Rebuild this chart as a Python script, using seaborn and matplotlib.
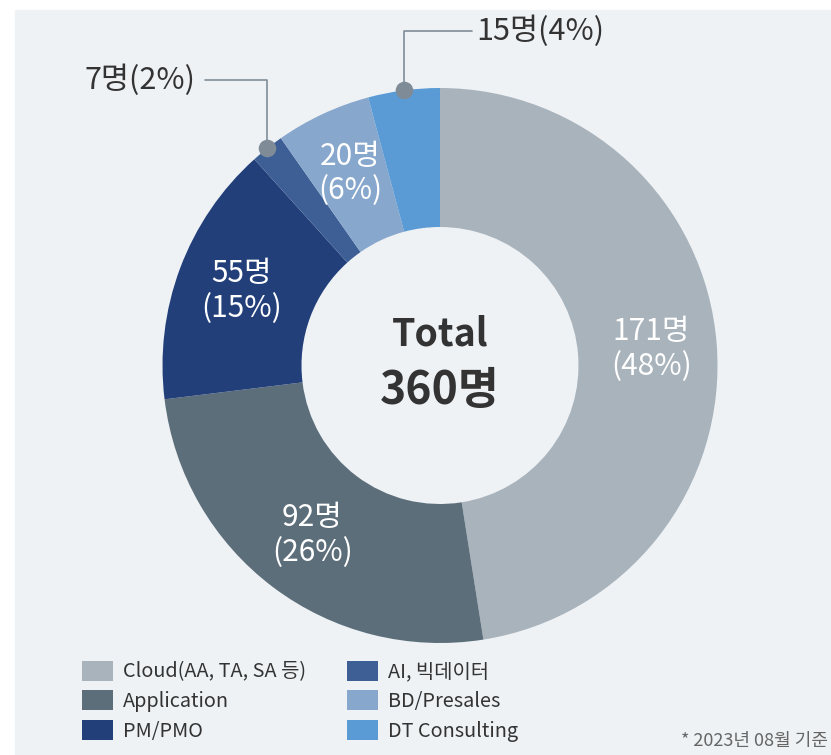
import numpy as np
import matplotlib
matplotlib.use("Agg")
import matplotlib.pyplot as plt
from matplotlib.patches import Rectangle
import seaborn as sns

# data
categories = ["Cloud(AA, TA, SA 등)", "Application", "PM/PMO", "AI, 빅데이터", "BD/Presales", "DT Consulting"]
counts = [171, 92, 55, 7, 20, 15]
percents = [48, 26, 15, 2, 6, 4]
outside = [False, False, False, True, False, True]
colors = ["#a9b3bc", "#5d6e7b", "#223f7a", "#3d5f96", "#87a7cc", "#5b9bd5"]
total_label = "360명"
note = "* 2023년 08월 기준"

sns.set_theme(style="white")
plt.rcParams["font.family"] = ["Noto Sans CJK KR", "DejaVu Sans"]

W, H = 831, 755
bg = "#eef2f5"
fig = plt.figure(figsize=(W / 100, H / 100), dpi=100)
fig.patch.set_facecolor("white")
ax = fig.add_axes([0, 0, 1, 1])

# panel background
ax.add_patch(Rectangle((15, 0), W - 15, H - 10, color=bg, zorder=0))

cx, cy = 440, H - 365.5
r_out, r_in = 277.5, 138.5
wedges, _ = ax.pie(counts, colors=colors, startangle=90, counterclock=False,
                   radius=r_out, center=(cx, cy), frame=True,
                   wedgeprops=dict(width=r_out - r_in, linewidth=0))
ax.set_xlim(0, W)
ax.set_ylim(0, H)
ax.set_aspect("equal")
ax.axis("off")

tot = sum(counts)
cum = np.cumsum(counts)
mid = 2 * np.pi * (cum - np.array(counts) / 2) / tot
line_c = "#7f8c98"
for i, (c, p) in enumerate(zip(counts, percents)):
    th = mid[i]
    if not outside[i]:
        r = 212
        ax.text(cx + r * np.sin(th), cy + r * np.cos(th), f"{c}명\n({p}%)",
                ha="center", va="center", color="white", fontsize=21.5,
                linespacing=1.15, zorder=5)
    else:
        px, py = cx + r_out * np.sin(th), cy + r_out * np.cos(th)
        if np.sin(th) < -0.5:
            ey, ex = H - 80, 205
            ax.plot([px, px, ex], [py, ey, ey], color=line_c, lw=1.2, zorder=4)
            ax.text(ex - 10, ey, f"{c}명({p}%)", ha="right", va="center",
                    color="#333333", fontsize=22)
        else:
            ey, ex = H - 31, 472
            ax.plot([px, px, ex], [py, ey, ey], color=line_c, lw=1.2, zorder=4)
            ax.text(ex + 4, ey, f"{c}명({p}%)", ha="left", va="center",
                    color="#333333", fontsize=22)
        ax.scatter([px], [py], s=160, color=line_c, zorder=6, linewidths=0)

# center
ax.text(cx, cy + 32, "Total", ha="center", va="center", fontsize=27,
        fontweight="bold", color="#333333")
ax.text(cx, cy - 25, total_label, ha="center", va="center", fontsize=32,
        fontweight="bold", color="#333333")

leg = ax.legend(wedges, categories, ncol=2, loc="upper left",
                bbox_to_anchor=(72 / W, (H - 651) / H), bbox_transform=fig.transFigure,
                frameon=False, fontsize=14.3, handlelength=1.55, handleheight=1.15,
                handletextpad=0.5, labelspacing=0.4, columnspacing=2.1, borderpad=0)
for t in leg.get_texts():
    t.set_color("#333333")

ax.text(828, H - 741, note, ha="right", va="center", fontsize=13, color="#666666")

fig.savefig("out.png", dpi=100, facecolor=fig.get_facecolor())
